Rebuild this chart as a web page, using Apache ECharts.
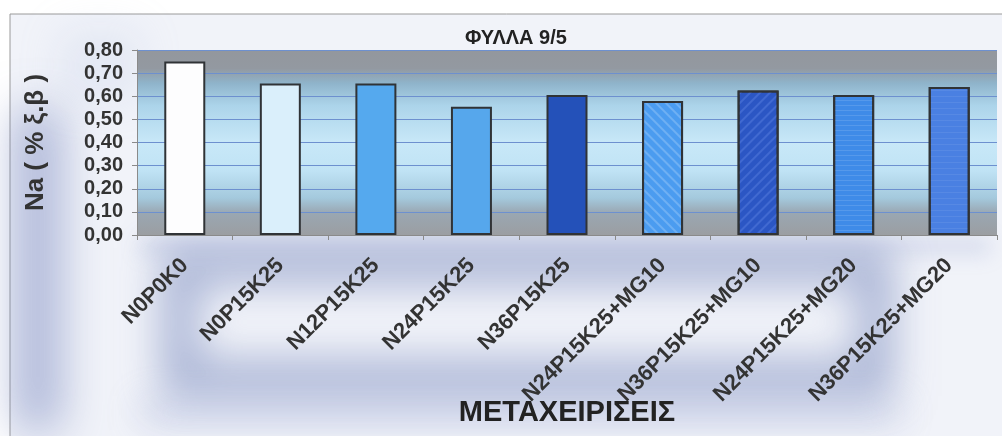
<!DOCTYPE html>
<html>
<head>
<meta charset="utf-8">
<script src="https://cdn.jsdelivr.net/npm/echarts@6/dist/echarts.min.js"></script>
<style>html,body{margin:0;padding:0;background:#fff;}#c{width:1002px;height:436px;}</style>
</head>
<body>
<div id="c"></div>
<script>
const titleText = 'ΦΥΛΛΑ 9/5';
const yAxisName = 'Na ( % ξ.β )';
const xAxisName = 'ΜΕΤΑΧΕΙΡΙΣΕΙΣ';
const categories = ['N0P0K0','N0P15K25','N12P15K25','N24P15K25','N36P15K25','N24P15K25+MG10','N36P15K25+MG10','N24P15K25+MG20','N36P15K25+MG20'];
const values = [0.75, 0.655, 0.655, 0.555, 0.605, 0.58, 0.625, 0.605, 0.64];
const barColors = ['#fdfdfe','#daeffb','#55a9ee','#56a7ec','#2451b9','#4b9cf0','#2b56c4','#3f8be8','#4a80e2'];
const yMin = 0, yMax = 0.8, yStep = 0.1;

const decals = [null, null, null, null, null,
  {symbol:'rect', color:'rgba(255,255,255,0.2)', dashArrayX:[1,0], dashArrayY:[2,5], rotation:Math.PI/4},
  {symbol:'rect', color:'rgba(140,175,255,0.22)', dashArrayX:[1,0], dashArrayY:[2,5], rotation:-Math.PI/4},
  {symbol:'rect', color:'rgba(255,255,255,0.12)', dashArrayX:[1,0], dashArrayY:[1,4], rotation:0},
  {symbol:'rect', color:'rgba(255,255,255,0.07)', dashArrayX:[1,0], dashArrayY:[1,5], rotation:0}
];

const chart = echarts.init(document.getElementById('c'), null, {renderer:'canvas'});

function blurRect(x, y, w, h, color, blur, r) {
  return {type:'rect', silent:true, z:-100,
    shape:{x:x-3000, y:y, width:w, height:h, r:r||0},
    style:{fill:color, shadowColor:color, shadowBlur:blur, shadowOffsetX:3000}};
}
function blurRing(x, y, w, h, color, lw, blur) {
  return {type:'rect', silent:true, z:-99,
    shape:{x:x-3000, y:y, width:w, height:h},
    style:{fill:null, stroke:color, lineWidth:lw, shadowColor:color, shadowBlur:blur, shadowOffsetX:3000}};
}

const font = '"Liberation Sans", Arial, sans-serif';

chart.setOption({
  animation:false,
  backgroundColor:'#ffffff',
  graphic:[
    {type:'rect', silent:true, z:-110, shape:{x:10, y:14, width:1000, height:430},
      style:{fill:'#f1f3f9', stroke:'#9a9a9a', lineWidth:1}},
    blurRect(16, 110, 44, 320, 'rgba(110,126,186,0.75)', 45),
    blurRect(60, 30, 80, 70, 'rgba(175,190,228,0.45)', 40),
    blurRing(180, 266, 695, 112, 'rgba(100,118,178,0.72)', 36, 40),
    blurRect(140, 400, 760, 26, 'rgba(145,160,208,0.55)', 34),
    blurRect(140, 238, 850, 16, 'rgba(130,146,202,0.5)', 20)
  ],
  title:{text:titleText, left:460, top:23,
    textStyle:{fontFamily:font, fontSize:20, fontWeight:'bold', color:'#222'}},
  grid:{left:137, right:5, top:50, bottom:201, show:true, borderWidth:0, outerBoundsMode:'none', containLabel:false,
    backgroundColor:{type:'linear', x:0, y:0, x2:0, y2:1, colorStops:[
      {offset:0, color:'#93979d'},
      {offset:0.1, color:'#9399a1'},
      {offset:0.18, color:'#8fb4cb'},
      {offset:0.3, color:'#acd4ea'},
      {offset:0.5, color:'#c8e8f8'},
      {offset:0.65, color:'#c0e3f5'},
      {offset:0.8, color:'#a4c9dd'},
      {offset:0.88, color:'#9aa7b2'},
      {offset:1, color:'#9b9ea2'}]}},
  xAxis:{type:'category', data:categories,
    name:xAxisName, nameLocation:'middle', nameGap:178, nameMoveOverlap:false,
    nameTextStyle:{fontFamily:font, fontSize:29, fontWeight:'bold', color:'#222', verticalAlign:'middle'},
    axisLine:{lineStyle:{color:'#8a8a8a', width:1}},
    axisTick:{show:true, length:5, lineStyle:{color:'#8a8a8a'}},
    axisLabel:{rotate:45, margin:27, interval:0, fontFamily:font, fontSize:22, fontWeight:'bold', color:'#333'}},
  yAxis:{type:'value', min:yMin, max:yMax, interval:yStep,
    name:yAxisName, nameLocation:'middle', nameGap:88, nameMoveOverlap:false,
    nameTextStyle:{fontFamily:font, fontSize:26, fontWeight:'bold', color:'#333'},
    axisLine:{show:true, lineStyle:{color:'#8a8a8a', width:1}},
    axisTick:{show:true, length:5, lineStyle:{color:'#8a8a8a'}},
    axisLabel:{margin:14, fontFamily:font, fontSize:20, fontWeight:'bold', color:'#333',
      formatter:function(v){return v.toFixed(2).replace('.', ',');}},
    splitLine:{show:true, lineStyle:{color:'#6d90cf', width:1}}},
  series:[{type:'bar', barWidth:41,
    data:values.map(function(v,i){
      const it = {value:v, itemStyle:{color:barColors[i], borderColor:'#303336', borderWidth:2}};
      if (decals[i]) it.itemStyle.decal = decals[i];
      return it;
    })}]
});
</script>
</body>
</html>
